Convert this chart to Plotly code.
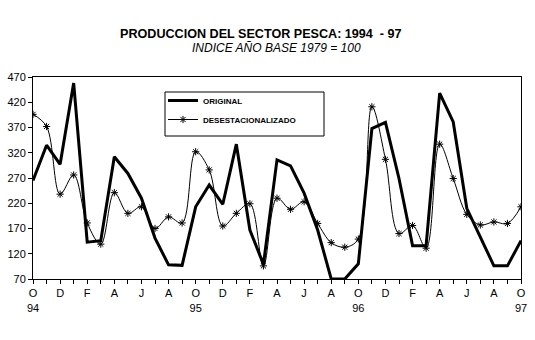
import plotly.graph_objects as go

months = ["O","N","D","J","F","M","A","M","J","J","A","S"] * 3 + ["O"]
original = [265, 335, 297, 458, 143, 146, 312, 279, 230, 151, 98, 97,
            213, 256, 218, 337, 167, 99, 306, 294, 240, 167, 70, 70,
            100, 368, 380, 269, 136, 136, 438, 381, 210, 154, 96, 96, 146]
desest = [396, 372, 238, 276, 181, 139, 241, 200, 213, 170, 193, 181,
          322, 286, 175, 200, 219, 96, 230, 208, 223, 180, 142, 133,
          149, 411, 307, 160, 176, 131, 337, 269, 198, 177, 183, 180, 213]
year_labels = {0: "94", 12: "95", 24: "96", 36: "97"}
y_ticks = [70, 120, 170, 220, 270, 320, 370, 420, 470]

x = list(range(len(original)))
tickvals = list(range(0, len(months), 2))
ticktext = [months[i] + ("<br>" + year_labels[i] if i in year_labels else "") for i in tickvals]

font_family = "Liberation Sans, Arial, sans-serif"

W, H = 535, 340
L, R, T, B = 33, 14, 77, 61
pw, ph = W - L - R, H - T - B


def px_x(v):
    return (v - L) / pw


def px_y(v):
    return (H - B - v) / ph


fig = go.Figure()
fig.add_trace(go.Scatter(x=x, y=original, mode="lines", name="ORIGINAL",
                         line=dict(color="black", width=3)))
fig.add_trace(go.Scatter(x=x, y=desest, mode="lines+markers", name="DESESTACIONALIZADO",
                         line=dict(color="black", width=1, shape="spline", smoothing=1),
                         marker=dict(symbol="asterisk-open", size=6, color="black",
                                     line=dict(color="black", width=1))))

fig.update_layout(
    width=W, height=H,
    margin=dict(l=L, r=R, t=T, b=B),
    paper_bgcolor="white", plot_bgcolor="white",
    font=dict(family=font_family, color="black", size=11),
    showlegend=True,
    legend=dict(x=px_x(163), y=px_y(86), xanchor="left", yanchor="top",
                borderwidth=0, bgcolor="rgba(0,0,0,0)",
                font=dict(size=8, family=font_family, weight="bold"),
                tracegroupgap=0),
    xaxis=dict(range=[0, 36], tickvals=tickvals, ticktext=ticktext, automargin=False,
               showgrid=False, zeroline=False, showline=True, linecolor="black",
               linewidth=1, mirror=True, ticks="outside", ticklen=4, tickcolor="black",
               minor=dict(dtick=1, ticks="outside", ticklen=4, tickcolor="black", showgrid=False),
               tickfont=dict(size=11)),
    yaxis=dict(range=[70, 470], tickvals=y_ticks, showgrid=False, zeroline=False, automargin=False,
               showline=True, linecolor="black", linewidth=1, mirror=True,
               ticks="outside", ticklen=4, tickcolor="black", tickfont=dict(size=11)),
    shapes=[dict(type="rect", xref="paper", yref="paper",
                 x0=px_x(165), x1=px_x(324), y0=px_y(136), y1=px_y(92),
                 line=dict(color="black", width=1), fillcolor="white", layer="below")],
    annotations=[
        dict(text="<b>PRODUCCION DEL SECTOR PESCA: 1994  - 97</b>", x=px_x(261), y=px_y(25),
             xref="paper", yref="paper", showarrow=False,
             font=dict(size=12.6, family=font_family)),
        dict(text="<i>INDICE AÑO BASE 1979 = 100</i>", x=px_x(276), y=px_y(39),
             xref="paper", yref="paper", showarrow=False,
             font=dict(size=12, family=font_family)),
    ],
)

fig.write_html("out.html")
